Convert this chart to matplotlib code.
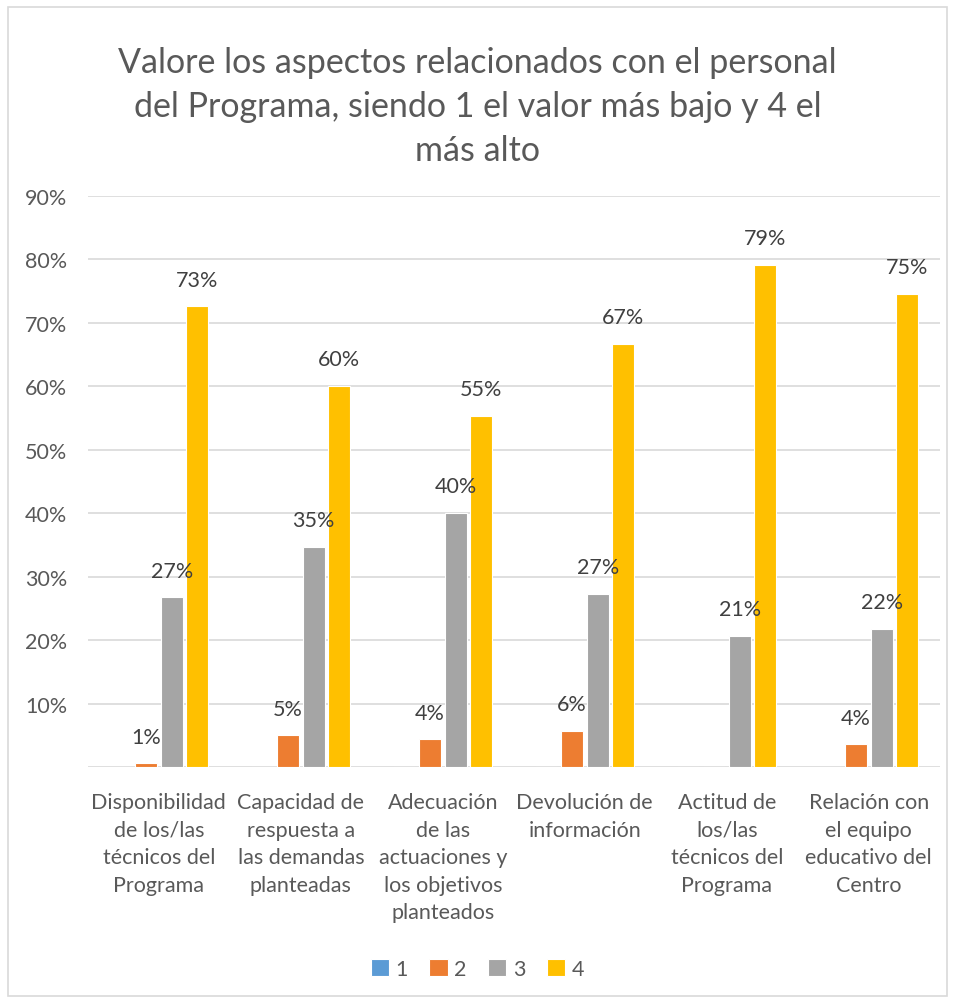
import matplotlib
matplotlib.use("Agg")
import matplotlib.pyplot as plt
import numpy as np
from matplotlib.patches import Rectangle

categories = [
    "Disponibilidad\nde los/las\ntécnicos del\nPrograma",
    "Capacidad de\nrespuesta a\nlas demandas\nplanteadas",
    "Adecuación\nde las\nactuaciones y\nlos objetivos\nplanteados",
    "Devolución de\ninformación",
    "Actitud de\nlos/las\ntécnicos del\nPrograma",
    "Relación con\nel equipo\neducativo del\nCentro",
]
series_names = ["1", "2", "3", "4"]
s1 = [0.0, 0.0, 0.0, 0.0, 0.0, 0.0]
s2 = [0.006, 0.050, 0.044, 0.057, 0.0, 0.036]
s3 = [0.268, 0.347, 0.401, 0.273, 0.207, 0.218]
s4 = [0.726, 0.601, 0.554, 0.667, 0.792, 0.746]
colors = ["#5B9BD5", "#ED7D31", "#A5A5A5", "#FFC000"]
title = "Valore los aspectos relacionados con el personal\ndel Programa, siendo 1 el valor más bajo y 4 el\nmás alto"

plt.rcParams['font.family'] = ['Lato', 'DejaVu Sans']
txt = "#595959"
fs = 15.5

fig = plt.figure(figsize=(9.55, 10.03), dpi=100)
fig.patches.append(Rectangle((0.008, 0.006), 0.984, 0.986, transform=fig.transFigure,
                             fill=False, edgecolor="#D9D9D9", linewidth=1.2))
ax = fig.add_axes([0.092, 0.2343, 0.892, 0.5693])

x = np.arange(len(categories))
pitch = 0.181
width = 0.155
all_series = [s1, s2, s3, s4]
for i, (vals, c, name) in enumerate(zip(all_series, colors, series_names)):
    pos = x + (i - 1.5) * pitch
    ax.bar(pos, vals, width=width, color=c, edgecolor="white", linewidth=0.8, label=name, zorder=3)
    if i > 0:
        for xp, v in zip(pos, vals):
            if v > 0:
                ax.annotate(f"{round(v*100):.0f}%", (xp, v), xytext=(0, 19), textcoords="offset points",
                            ha="center", va="center", fontsize=fs, color="#404040", zorder=4)

ax.set_xlim(-0.5, len(categories) - 0.5)
ax.set_ylim(0, 0.9)
ticks = np.arange(0.1, 0.91, 0.1)
ax.set_yticks(ticks)
ax.set_yticklabels([f"{int(round(t*100))}%" for t in ticks])
ax.yaxis.grid(True, color="#D9D9D9", linewidth=1.2, zorder=0)
ax.axhline(0, color="#D9D9D9", linewidth=1.2, zorder=2)
for s in ax.spines.values():
    s.set_visible(False)
ax.tick_params(axis="y", length=0, pad=15, labelsize=fs, labelcolor=txt)
ax.set_xticks(x)
ax.set_xticklabels(categories, fontsize=fs, color=txt, linespacing=1.47, va="top")
ax.tick_params(axis="x", length=0, pad=18)

fig.suptitle(title, fontsize=24.5, color=txt, y=0.953, linespacing=1.45)

fig.legend(*ax.get_legend_handles_labels(), loc="center", bbox_to_anchor=(0.5, 0.033), ncol=4,
           frameon=False, fontsize=fs, handlelength=0.85, handleheight=0.85, handletextpad=0.3,
           columnspacing=1.0, labelcolor=txt)

fig.savefig("out.png", dpi=100)
